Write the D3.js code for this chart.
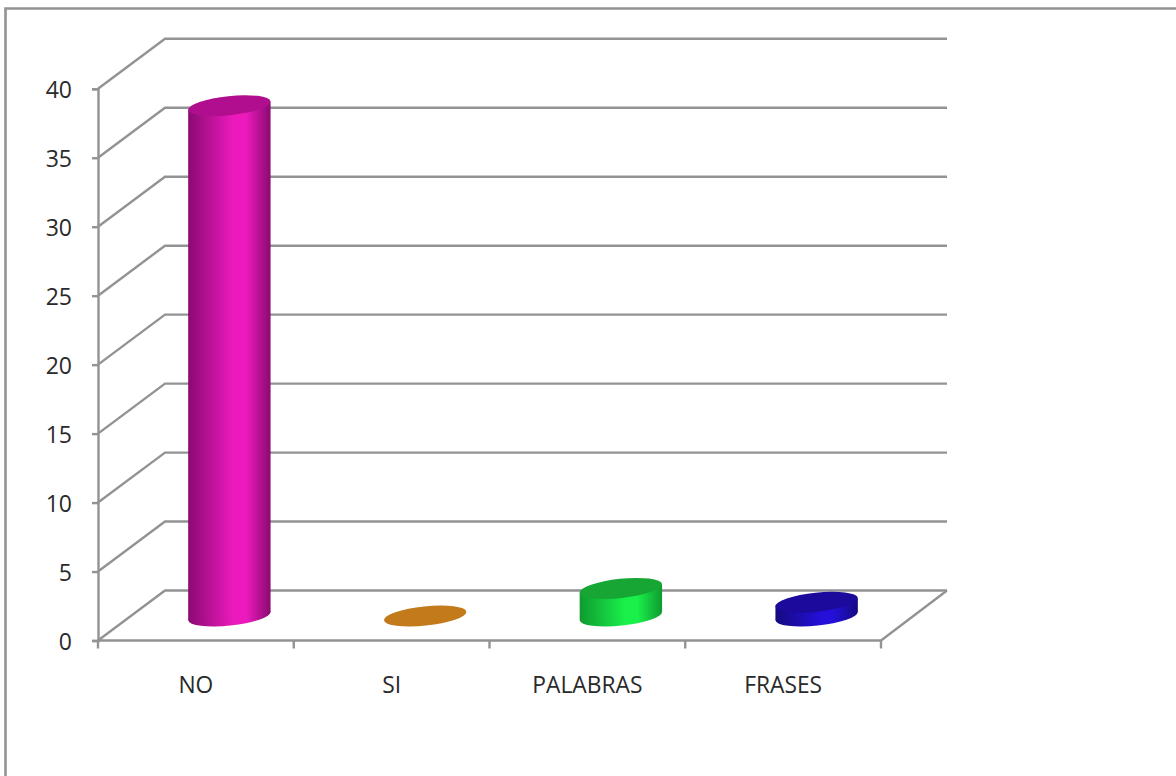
<!DOCTYPE html>
<html><head><meta charset="utf-8">
<script src="https://cdn.jsdelivr.net/npm/d3@7"></script>
<style>html,body{margin:0;padding:0;background:#fff;overflow:hidden}svg{display:block}
text{font-family:"Open Sans",sans-serif;fill:#2a2a2a}</style></head><body>
<svg id="c" width="1176" height="776"></svg>
<script>
const categories = ["NO","SI","PALABRAS","FRASES"];
const values = [37,0,2,1];
const yTicks = [0,5,10,15,20,25,30,35,40];
const sideColors = ["#ec1abd","#c27a1a","#19f04a","#2410d8"];
const edgeColors = ["#8a0a72","#c27a1a","#0f9a30","#150a80"];
const topColors  = ["#b00e8e","#c27a1a","#17a634","#1c0a9c"];

const svg = d3.select("#c");
const gray = "#939393";
const depthX = 67, depthY = 50;
const x = d3.scaleBand().domain(categories).range([98,881]);
const y = d3.scaleLinear().domain([0,40]).range([640.5,88.8]);

svg.append("path").attr("d","M5.5,776V8.5H1176").attr("fill","none").attr("stroke",gray).attr("stroke-width",2.6);

const grid = svg.append("g").attr("fill","none").attr("stroke",gray).attr("stroke-width",2.4);
grid.selectAll("path").data(yTicks).join("path")
  .attr("d",d=>{
    const py=y(d);
    return d3.line()([[98,py],[98+depthX,py-depthY],[947,py-depthY]]);
  });
grid.append("path").attr("d",d3.line()([[x.range()[0],y(0)],[x.range()[1],y(0)],[947,y(0)-depthY]]));

const yAxis = d3.axisLeft(y).tickValues(yTicks).tickSize(6).tickPadding(20);
const gy = svg.append("g").attr("transform","translate(98,0)").call(yAxis);
const xAxis = d3.axisBottom(x).tickSize(0).tickPadding(36);
const gx = svg.append("g").attr("transform",`translate(0,${y(0)})`).call(xAxis);
gx.selectAll("path").remove();
gx.selectAll(".tick line").remove();
svg.append("g").attr("stroke",gray).attr("stroke-width",2.4)
  .selectAll("line").data(d3.range(categories.length+1)).join("line")
  .attr("x1",i=>98+i*x.bandwidth()).attr("x2",i=>98+i*x.bandwidth())
  .attr("y1",y(0)).attr("y2",y(0)+8);
gy.selectAll("path,line").attr("stroke",gray).attr("stroke-width",2.4);
gy.selectAll("text").attr("font-size",23).attr("dy","0.38em").attr("font-family",'"Open Sans",sans-serif');
gx.selectAll("text").attr("font-size",22.8).attr("font-family",'"Open Sans",sans-serif');

const defs = svg.append("defs");
categories.forEach((c,i)=>{
  const g = defs.append("linearGradient").attr("id","g"+i);
  g.append("stop").attr("offset","0").attr("stop-color",edgeColors[i]);
  g.append("stop").attr("offset","0.55").attr("stop-color",sideColors[i]);
  g.append("stop").attr("offset","0.7").attr("stop-color",sideColors[i]);
  g.append("stop").attr("offset","1").attr("stop-color",edgeColors[i]);
});

const rx = 41.4, ry = 9.6, rot = -6;
const dyT = 3.9, hw = 41.2;
const base = y(0) - 24.5;
const bars = svg.append("g").selectAll("g").data(categories.map((c,i)=>({c,i,v:values[i]}))).join("g");
bars.each(function(d){
  const g = d3.select(this);
  const cx = x(d.c)+x.bandwidth()/2+depthX/2;
  const h = y(0)-y(d.v);
  const top = base-h;
  if(d.v>0){
    g.append("ellipse").attr("cx",cx).attr("cy",base).attr("rx",rx).attr("ry",ry)
      .attr("transform",`rotate(${rot} ${cx} ${base})`).attr("fill",`url(#g${d.i})`);
    g.append("path").attr("fill",`url(#g${d.i})`)
      .attr("d",d3.line()([[cx-hw,top+dyT],[cx+hw,top-dyT],[cx+hw,base-dyT],[cx-hw,base+dyT]])+"Z");
  }
  g.append("ellipse").attr("cx",cx).attr("cy",top).attr("rx",rx).attr("ry",ry)
    .attr("transform",`rotate(${rot} ${cx} ${top})`).attr("fill",topColors[d.i]);
});
</script></body></html>
